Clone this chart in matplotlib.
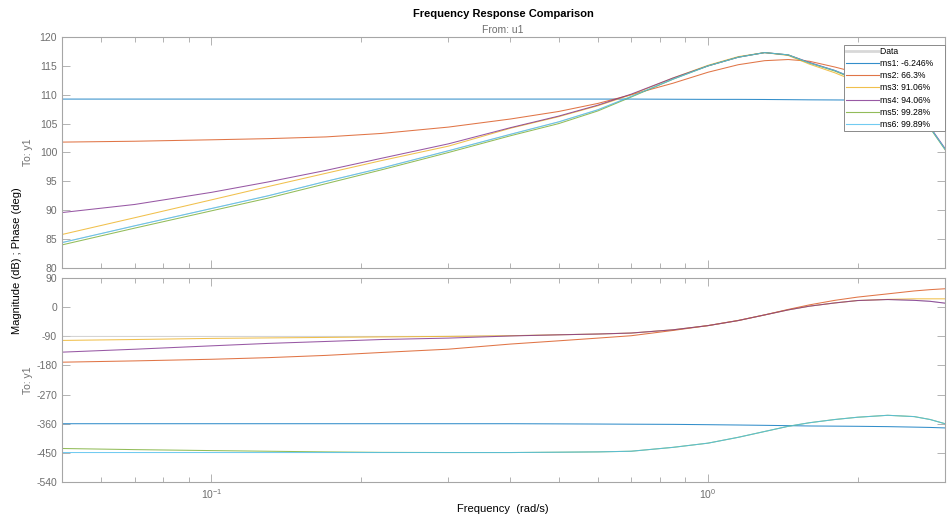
import matplotlib
matplotlib.use("Agg")
import matplotlib.pyplot as plt
from matplotlib.lines import Line2D
from matplotlib.ticker import LogLocator, FixedLocator, NullFormatter

plt.rcParams['font.family'] = ['Liberation Sans', 'DejaVu Sans']
plt.rcParams['axes.unicode_minus'] = False

freq = [0.05, 0.07, 0.1, 0.13, 0.17, 0.22, 0.3, 0.4, 0.5, 0.6, 0.7, 0.85,
        1.0, 1.15, 1.3, 1.45, 1.6, 1.8, 2.0, 2.3, 2.6, 2.8, 3.0]

labels = ["Data", "ms1: -6.246%", "ms2: 66.3%", "ms3: 91.06%", "ms4: 94.06%",
          "ms5: 99.28%", "ms6: 99.89%"]

mag_data = [84.4, 87.3, 90.3, 92.5, 95.0, 97.3, 100.3, 103.15, 105.3, 107.4, 109.7, 112.7,
            115.0, 116.5, 117.3, 116.9, 115.5, 114.2, 112.6, 109.8, 106.6, 104.3, 100.6]
mag_ms1 = [109.25, 109.25, 109.25, 109.25, 109.25, 109.25, 109.25, 109.25, 109.25, 109.25, 109.25, 109.22,
           109.2, 109.2, 109.18, 109.15, 109.12, 109.1, 109.08, 109.05, 109.0, 108.97, 108.95]
mag_ms2 = [101.8, 101.95, 102.2, 102.4, 102.7, 103.3, 104.4, 105.8, 107.1, 108.5, 110.0, 112.0,
           113.9, 115.2, 115.9, 116.1, 115.8, 114.8, 113.8, 112.3, 110.6, 109.6, 108.5]
mag_ms3 = [85.8, 88.7, 91.8, 94.1, 96.4, 98.6, 101.1, 104.2, 106.2, 108.1, 110.0, 112.9,
           115.1, 116.6, 117.3, 116.8, 115.3, 113.8, 112.2, 110.2, 108.0, 106.5, 104.9]
mag_ms4 = [89.6, 91.0, 93.1, 94.9, 96.9, 99.0, 101.5, 104.3, 106.3, 108.2, 110.1, 112.9,
           115.0, 116.5, 117.3, 116.9, 115.6, 114.2, 112.6, 109.9, 106.7, 104.4, 100.7]
mag_ms5 = [84.0, 86.9, 89.9, 92.1, 94.6, 97.0, 100.0, 102.9, 105.0, 107.2, 109.6, 112.7,
           115.0, 116.5, 117.3, 116.9, 115.5, 114.1, 112.5, 109.7, 106.5, 104.2, 100.5]
mag_ms6 = [84.4, 87.3, 90.3, 92.5, 95.0, 97.3, 100.3, 103.15, 105.3, 107.4, 109.7, 112.7,
           115.0, 116.5, 117.3, 116.9, 115.5, 114.2, 112.6, 109.8, 106.6, 104.3, 100.6]

ph_data = [-90.5, -90.5, -90.5, -90.5, -90.5, -90.5, -90.2, -88.3, -85.3, -83, -80, -70,
           -57, -41.5, -24, -8.5, 3, 13, 20.4, 23.5, 21, 18, 12.3]
ph_ms1 = [-360, -360, -360, -360, -360, -360, -360, -360, -360.5, -361, -361.5, -362,
          -363, -364, -365, -366, -367, -367.5, -368, -369, -370.5, -371.5, -373]
ph_ms2 = [-170, -166, -161, -156, -149, -140, -129.8, -114, -104, -95.6, -88.3, -72,
          -57, -41, -24, -7, 7, 21, 31, 41, 50, 54, 56.8]
ph_ms3 = [-102.8, -100, -96.5, -95, -93.5, -92, -90.3, -88.3, -85.3, -83, -80, -70,
          -57, -41.5, -24, -8.5, 3, 13, 20.4, 24, 25.7, 25.7, 25.7]
ph_ms4 = [-139, -130, -119.5, -112, -106, -100, -95.6, -89, -85.5, -83, -80, -70,
          -57, -41.5, -24, -8.5, 3, 13, 20.4, 23.5, 21, 18, 12.3]
ph_ms5 = [-436.5, -440, -443, -445, -447, -448.5, -449, -449, -448, -447, -445, -433,
          -420, -402, -384, -368, -357, -347, -340, -334, -338, -347, -360]
ph_ms6 = [-449, -449, -449, -449, -449, -449, -449, -449, -448, -447, -445, -433,
          -420, -402, -384, -368, -357, -347, -340, -334, -338, -347, -360]

mag_series = [mag_data, mag_ms1, mag_ms2, mag_ms3, mag_ms4, mag_ms5, mag_ms6]
ph_series = [ph_data, ph_ms1, ph_ms2, ph_ms3, ph_ms4, ph_ms5, ph_ms6]
colors = ["#c8c8c8", "#0072BD", "#D95319", "#EDB120", "#7E2F8E", "#77AC30", "#4DBEEE"]

W, H = 951, 518
fig = plt.figure(figsize=(W / 100, H / 100), dpi=100)
L, R = 62, 945
ax1 = fig.add_axes([L / W, 1 - 268 / H, (R - L) / W, (268 - 37) / H])
ax2 = fig.add_axes([L / W, 1 - 482 / H, (R - L) / W, (482 - 278) / H])

for s, c in zip(mag_series, colors):
    ax1.plot(freq, s, color=c, lw=0.75, alpha=0.8)
for s, c in zip(ph_series, colors):
    ax2.plot(freq, s, color=c, lw=0.75, alpha=0.8)

handles = [Line2D([], [], color=colors[0], lw=2.0, alpha=0.7)]
handles += [Line2D([], [], color=c, lw=0.8, alpha=0.8) for c in colors[1:]]

spine_c = "#a6a6a6"
text_c = "#6e6e6e"
for ax in (ax1, ax2):
    ax.set_xscale('log')
    ax.set_xlim(0.05, 3.0)
    ax.xaxis.set_major_locator(LogLocator(base=10, numticks=10))
    ax.xaxis.set_minor_locator(LogLocator(base=10, subs=range(2, 10), numticks=20))
    ax.xaxis.set_minor_formatter(NullFormatter())
    for sp in ax.spines.values():
        sp.set_color(spine_c)
        sp.set_linewidth(0.8)
    ax.tick_params(which='both', direction='in', top=True, right=True,
                   colors=spine_c, labelcolor=text_c, labelsize=7.5, width=0.6)
    ax.tick_params(which='major', length=6)
    ax.tick_params(which='minor', length=3.5)

ax1.set_ylim(80, 120)
ax1.yaxis.set_major_locator(FixedLocator(list(range(80, 121, 5))))
ax1.tick_params(axis='x', labelbottom=False)
ax2.set_ylim(-540, 90)
ax2.yaxis.set_major_locator(FixedLocator(list(range(-540, 91, 90))))

ax1.set_ylabel("To: y1", color=text_c, fontsize=7.5)
ax2.set_ylabel("To: y1", color=text_c, fontsize=7.5)
ax1.yaxis.set_label_coords(-0.033, 0.5)
ax2.yaxis.set_label_coords(-0.033, 0.5)

fig.text(17 / W, 1 - 261 / H, "Magnitude (dB) ; Phase (deg)", rotation=90,
         ha='center', va='center', fontsize=8, color='black')
fig.text(503 / W, 1 - 14 / H, "Frequency Response Comparison", ha='center',
         va='center', fontsize=8, fontweight='bold', color='black')
fig.text(503 / W, 1 - 30 / H, "From: u1", ha='center', va='center',
         fontsize=7.5, color=text_c)
fig.text(503 / W, 1 - 509 / H, "Frequency  (rad/s)", ha='center', va='center',
         fontsize=8, color='black')

leg = ax1.legend(handles=handles, labels=[lab + "    " for lab in labels],
                 loc='upper right', bbox_to_anchor=(1.0, 1 - 8 / 231),
                 borderaxespad=0, fontsize=6.2, frameon=True, fancybox=False,
                 framealpha=1, edgecolor="#8a8a8a", handlelength=3.8,
                 handletextpad=0.12, labelspacing=0.36, borderpad=0.25)
leg.get_frame().set_linewidth(0.7)

fig.savefig("out.png", dpi=100)
